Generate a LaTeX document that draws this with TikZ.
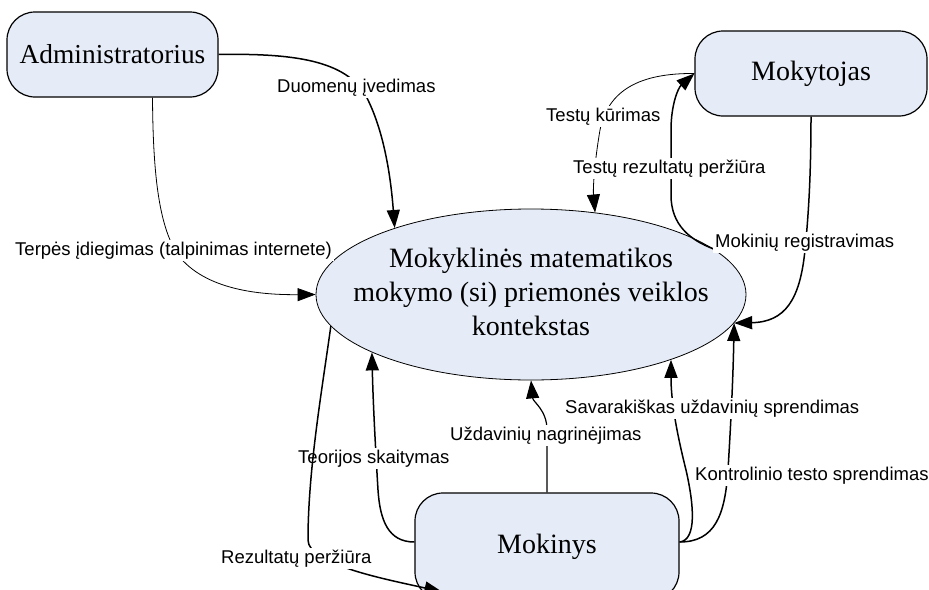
\documentclass[tikz,border=0pt]{standalone}
\usepackage{fontspec}
\setmainfont{Liberation Serif}
\newfontfamily\labelfont{Liberation Sans}
\usetikzlibrary{arrows.meta,calc,shapes.geometric}
\definecolor{boxfill}{RGB}{230,236,247}

\begin{document}
\begin{tikzpicture}[x=1pt,y=-1pt,
  actor/.style={draw,line width=1.2pt,fill=boxfill,rounded corners=28pt,
    inner sep=0pt,font=\fontsize{28}{34}\selectfont},
  ctxshape/.style={ellipse,draw,line width=0.8pt,fill=boxfill,
    minimum width=430pt,minimum height=171pt,inner sep=0pt,
    font=\fontsize{28}{34}\selectfont},
  flowlabel/.style={fill=white,inner sep=2pt,anchor=base west,
    font=\labelfont\fontsize{18.5}{22}\selectfont},
  tip/.style={-{Triangle[length=18pt,width=13pt]}},
  thinflow/.style={tip,line width=0.8pt},
  thickflow/.style={tip,line width=1.5pt},
]
\useasboundingbox (0,0) rectangle (929,589);
\clip (0,0) rectangle (929,589);

% actors and the central context
\node[actor,minimum width=211pt,minimum height=85pt,font=\fontsize{27.4}{34}\selectfont] (adm) at (112.5,54.5) {Administratorius};
\node[actor,minimum width=232pt,minimum height=85pt] (mok) at (811,73.5) {Mokytojas};
\node[actor,minimum width=264pt,minimum height=107pt] (stu) at (547,546.5) {\raisebox{3pt}{Mokinys}};
\node[ctxshape] (ctx) at (531,294.5)
  {\makebox[0pt]{\begin{tabular}{@{}c@{}}Mokyklinės matematikos\\mokymo (si) priemonės veiklos\\kontekstas\end{tabular}}};

% Administratorius
\draw[thickflow] (adm.east) .. controls (300,53) and (350,62) .. (368,100)
  .. controls (385,135) and (391,180) .. (ctx.154.7);
\node[flowlabel] (lduom) at (275,92) {Duomenų įvedimas};

\draw[thinflow] ($(adm.south)+(40,0)$) .. controls (153,170) and (158,225) .. (178,255)
  .. controls (205,290) and (260,295) .. (ctx.west);
\node[flowlabel] (lterp) at (13,255) {Terpės įdiegimas (talpinimas internete)};

% Mokytojas
\draw[thinflow] (mok.west) .. controls (640,73) and (608,90) .. (600,130)
  .. controls (594,165) and (593,190) .. (ctx.52.7);
\node[flowlabel] (lkur) at (544,121) {Testų kūrimas};

\draw[thickflow] (ctx.14) .. controls (690,240) and (671,225) .. (671,195)
  -- (671,130) .. controls (671,105) and (678,88) .. (mok.west);
\node[flowlabel] (lrez) at (571,173) {Testų rezultatų peržiūra};

\draw[thickflow] (mok.south) .. controls (811,180) and (808,220) .. (805,250)
  .. controls (800,300) and (785,322) .. (ctx.-8);
\node[flowlabel] (lreg) at (713,247) {Mokinių registravimas};

% Mokinys
\draw[thickflow] ($(stu.east)+(0,-4.5)$) .. controls (715,542) and (725,515) .. (728,470)
  .. controls (731,420) and (733,380) .. (ctx.-8);
\node[flowlabel] (lkon) at (693,480) {Kontrolinio testo sprendimas};

\draw[thickflow] ($(stu.east)+(0,-4.5)$) .. controls (697,540) and (694,505) .. (686,470)
  .. controls (676,430) and (671,400) .. (ctx.-25.07);
\node[flowlabel] (lsav) at (563,413) {Savarakiškas uždavinių sprendimas};

\draw[line width=1.2pt,tip] (stu.north) -- (547,430) .. controls (547,410) and (533,402) .. (ctx.south);
\node[flowlabel] (lnag) at (448,440) {Uždavinių nagrinėjimas};

\draw[thickflow] ($(stu.west)+(0,-4.5)$) .. controls (388,542) and (380,520) .. (378,490)
  .. controls (375,440) and (373,400) .. (ctx.200.3);
\node[flowlabel] (lteo) at (296,463) {Teorijos skaitymas};

\draw[thickflow] (ctx.189.6) .. controls (322,390) and (308,470) .. (308,540)
  .. controls (308,565) and (390,580) .. ($(stu.west)+(28,45.5)$);
\node[flowlabel] (lper) at (219,563) {Rezultatų peržiūra};
\end{tikzpicture}
\end{document}
